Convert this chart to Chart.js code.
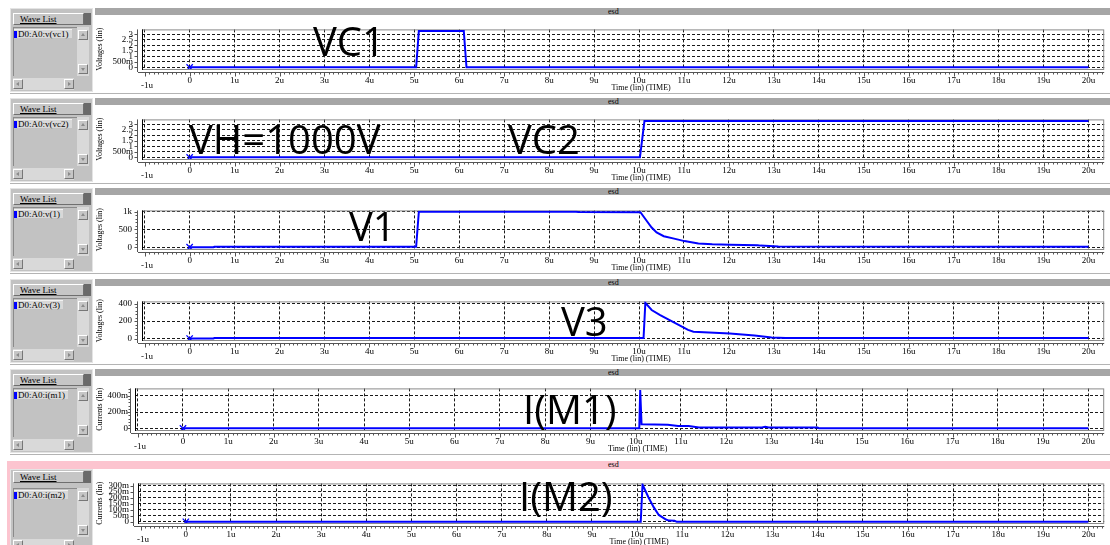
<!DOCTYPE html>
<html>
<head>
<meta charset="utf-8">
<script src="https://cdn.jsdelivr.net/npm/chart.js@4.4.0/dist/chart.umd.min.js"></script>
<style>
  body { margin: 0; width: 1110px; height: 545px; overflow: hidden; background: #fff; position: relative; font-family: "Liberation Serif", serif; }
  .panel { position: absolute; left: 0; width: 1110px; height: 86px; }
  .side { position: absolute; left: 10px; width: 83px; height: 84px; background: #c2c2c2; border: 1px solid #e4e4e4; box-sizing: border-box; }
  .btn { position: absolute; left: 2px; top: 4px; width: 71px; height: 12px; background: #c6c6c6; border: 1px solid; border-color: #fff #6f6f6f #6f6f6f #fff; box-sizing: border-box; font-size: 9px; line-height: 10px; padding-left: 6px; text-decoration: underline; }
  .dark { position: absolute; left: 73px; top: 4px; width: 7px; height: 12px; background: #6a6a6a; }
  .list { position: absolute; left: 2px; top: 18px; width: 64px; height: 49px; border-top: 1px solid #8a8a8a; border-left: 1px solid #8a8a8a; box-sizing: border-box; }
  .item { position: absolute; left: 0; top: 1px; background: #d8d8d8; border-top: 1px solid #f2f2f2; font-size: 9px; line-height: 8px; padding: 0 3px 0 0; white-space: nowrap; }
  .item i { display: inline-block; width: 3px; height: 7px; background: #0000ff; margin-right: 1px; vertical-align: -1px; }
  .vs { position: absolute; left: 66px; top: 18px; width: 12px; height: 49px; background: #d9d9d9; }
  .hs { position: absolute; left: 2px; top: 69px; width: 61px; height: 12px; background: #d9d9d9; }
  .ab { position: absolute; width: 10px; height: 10px; background: #c6c6c6; border: 1px solid; border-color: #fff #777 #777 #fff; box-sizing: border-box; }
  .ab b { position: absolute; left: 2px; top: 2px; width: 0; height: 0; border: 2px solid transparent; }
  .ab b.up { border-bottom: 3px solid #8a8a8a; top: 0; }
  .ab b.dn { border-top: 3px solid #8a8a8a; top: 3px; }
  .ab b.lt { border-right: 3px solid #8a8a8a; left: 0; }
  .ab b.rt { border-left: 3px solid #8a8a8a; left: 3px; }
  .hdr { position: absolute; left: 95px; top: 0; width: 1015px; height: 7px; background: #a6a6a6; font-size: 8px; line-height: 7px; }
  .hdr span { position: absolute; left: 513px; }
  .sep { position: absolute; left: 10px; top: 85px; width: 1100px; height: 1px; background: #b4b4b4; }
  canvas { position: absolute; left: 95px; top: 7px; }
  .big { position: absolute; font-family: "Open Sans", sans-serif; font-size: 40px; line-height: 40px; color: #000; white-space: nowrap; }
</style>
</head>
<body>
<script>
// time axis (microseconds)
const xTicks = [-1, 0, 1, 2, 3, 4, 5, 6, 7, 8, 9, 10, 11, 12, 13, 14, 15, 16, 17, 18, 19, 20];

// VC1
const vc1Time = [0, 5.04, 5.1, 6.1, 6.16, 20];
const vc1Volt = [0, 0, 3.3, 3.3, 0, 0];

// VC2
const vc2Time = [0, 10.02, 10.12, 20];
const vc2Volt = [0, 0, 3.3, 3.3];

// V(1)
const v1Time = [0, 0.53, 0.55, 5.04, 5.1, 8.6, 8.65, 10.03, 10.16, 10.28, 10.39, 10.55, 10.78, 11.01, 11.32, 11.63, 12.02, 12.64, 12.7, 13.1, 20];
const v1Volt = [0, 0, 12, 12, 1000, 1000, 988, 986, 759, 552, 414, 310, 241, 172, 103, 83, 69, 55, 45, 18, 15];

// V(3)
const v3Time = [0, 0.53, 0.55, 10.1, 10.14, 10.28, 10.47, 11.09, 11.21, 12.02, 12.57, 12.95, 13.26, 20];
const v3Volt = [0, 0, 5, 5, 409, 327, 269, 99, 79, 58, 35, 12, 5, 5];

// I(M1)
const im1Time = [0, 10.08, 10.1, 10.13, 10.71, 10.94, 11.17, 11.4, 12.79, 12.86, 12.94, 14.02, 14.05, 20];
const im1Amp = [0, 0, 0.47, 0.05, 0.045, 0.03, 0.03, 0.012, 0.012, 0.02, 0.01, 0.01, 0, 0];

// I(M2)
const im2Time = [0, 10.08, 10.12, 10.25, 10.37, 10.48, 10.64, 10.7, 10.83, 10.88, 20];
const im2Amp = [0, 0, 0.31, 0.205, 0.12, 0.057, 0.019, 0.01, 0.008, 0, 0];

// y ticks / labels
const yTicksVc = [0, 0.5, 1, 1.5, 2, 2.5, 3];
const yLabelsVc = ['0', '500m', '1', '1.5', '2', '2.5', '3'];
const yTicksV1 = [0, 500, 1000];
const yLabelsV1 = ['0', '500', '1k'];
const yTicksV3 = [0, 200, 400];
const yLabelsV3 = ['0', '200', '400'];
const yTicksI1 = [0, 0.2, 0.4];
const yLabelsI1 = ['0', '200m', '400m'];
const yTicksI2 = [0, 0.05, 0.1, 0.15, 0.2, 0.25, 0.3];
const yLabelsI2 = ['0', '50m', '100m', '150m', '200m', '250m', '300m'];

const panels = [
  { top: 8, node: 'D0:A0:v(vc1)', yTitle: 'Voltages (lin)', t: vc1Time, v: vc1Volt, yMin: -0.15, yMax: 3.45, ticks: yTicksVc, labels: yLabelsVc, axisW: 47, pad: 9 },
  { top: 98, node: 'D0:A0:v(vc2)', yTitle: 'Voltages (lin)', t: vc2Time, v: vc2Volt, yMin: -0.15, yMax: 3.45, ticks: yTicksVc, labels: yLabelsVc, axisW: 47, pad: 9 },
  { top: 188, node: 'D0:A0:v(1)', yTitle: 'Voltages (lin)', t: v1Time, v: v1Volt, yMin: -50, yMax: 1035, ticks: yTicksV1, labels: yLabelsV1, axisW: 47, pad: 10 },
  { top: 279, node: 'D0:A0:v(3)', yTitle: 'Voltages (lin)', t: v3Time, v: v3Volt, yMin: -17, yMax: 426, ticks: yTicksV3, labels: yLabelsV3, axisW: 47, pad: 10 },
  { top: 369, node: 'D0:A0:i(m1)', yTitle: 'Currents (lin)', t: im1Time, v: im1Amp, yMin: -0.02, yMax: 0.49, ticks: yTicksI1, labels: yLabelsI1, axisW: 40, pad: 7 },
  { top: 461, node: 'D0:A0:i(m2)', yTitle: 'Currents (lin)', t: im2Time, v: im2Amp, yMin: -0.01, yMax: 0.32, ticks: yTicksI2, labels: yLabelsI2, axisW: 43, pad: 9, selected: true }
];

const bigLabels = [
  { text: 'VC1', left: 313, top: 21 },
  { text: 'VH=1000V', left: 189, top: 119 },
  { text: 'VC2', left: 508, top: 119 },
  { text: 'V1', left: 349, top: 206 },
  { text: 'V3', left: 561, top: 301 },
  { text: 'I(M1)', left: 523, top: 389 },
  { text: 'I(M2)', left: 519, top: 476 }
];

const serif = '"Liberation Serif", "DejaVu Serif", serif';

function line(ctx, x1, y1, x2, y2) {
  ctx.beginPath();
  ctx.moveTo(x1, y1);
  ctx.lineTo(x2, y2);
  ctx.stroke();
}

// frame, rulers and x title like the waveform viewer
const scopeAxes = {
  id: 'scopeAxes',
  beforeDatasetsDraw(chart) {
    const { ctx, chartArea: a, scales: { x, y } } = chart;
    ctx.save();
    ctx.lineWidth = 1;
    ctx.strokeStyle = '#8a8a8a';
    ctx.strokeRect(a.left + 0.5, a.top + 0.5, a.right - a.left - 1, a.bottom - a.top);
    ctx.strokeStyle = '#000';
    line(ctx, a.left + 0.5, a.top, a.left + 0.5, a.bottom + 1);

    // bottom ruler
    const ry = a.bottom + 3.5;
    ctx.strokeStyle = '#555';
    line(ctx, a.left - 4, ry, a.right, ry);
    for (let k = -10; k <= 203; k++) {
      const t = k / 10;
      if (t < x.min || t > x.max) continue;
      const px = Math.round(x.getPixelForValue(t)) + 0.5;
      line(ctx, px, ry, px, ry + (k % 10 === 0 ? 4 : 2));
    }

    // left ruler
    const rx = a.left - 4.5;
    line(ctx, rx, a.top, rx, a.bottom + 3);
    const tv = y.ticks.map(t => t.value);
    const step = tv[1] - tv[0];
    const minor = step / 5;
    const dense = Math.abs(y.getPixelForValue(0) - y.getPixelForValue(minor)) < 3;
    for (let k = Math.ceil(y.min / minor); k * minor <= y.max; k++) {
      const val = k * minor;
      const major = k % 5 === 0;
      if (!major && dense) continue;
      const py = Math.round(y.getPixelForValue(val)) + 0.5;
      line(ctx, rx, py, rx - (major ? 3 : 2), py);
    }
    ctx.restore();
  },
  afterDraw(chart) {
    const { ctx, chartArea: a, scales: { x } } = chart;
    ctx.save();
    ctx.fillStyle = '#000';
    ctx.font = '8px ' + serif;
    ctx.textAlign = 'center';
    ctx.textBaseline = 'middle';
    ctx.fillText('Time (lin) (TIME)', x.getPixelForValue(10) + 2, a.bottom + 19);
    ctx.restore();
  }
};

function sideHtml(p) {
  return `<div class="side" style="top:${p.selected ? 8 : 0}px;height:${p.selected ? 78 : 84}px">
    <div class="btn" style="top:${p.selected ? 1 : 4}px">Wave List</div><div class="dark" style="top:${p.selected ? 1 : 4}px"></div>
    <div class="list"><span class="item"><i></i>${p.node}</span></div>
    <div class="vs"><div class="ab" style="left:1px;top:3px"><b class="up"></b></div><div class="ab" style="left:1px;top:37px"><b class="dn"></b></div></div>
    <div class="hs"><div class="ab" style="left:0;top:1px"><b class="lt"></b></div><div class="ab" style="left:51px;top:1px"><b class="rt"></b></div></div>
  </div>`;
}

panels.forEach(p => {
  const div = document.createElement('div');
  div.className = 'panel';
  div.style.top = p.top + 'px';
  let hdrStyle = '';
  if (p.selected) hdrStyle = 'left:8px;width:1102px;height:8px;background:#fcc4cf';
  div.innerHTML = sideHtml(p) +
    `<div class="hdr" style="${hdrStyle}"><span style="${p.selected ? 'left:600px' : ''}">esd</span></div>` +
    (p.selected ? '<div style="position:absolute;left:7px;top:0;width:3px;height:86px;background:#fcc4cf"></div>' : '<div class="sep"></div>');
  const canvas = document.createElement('canvas');
  canvas.width = 1015;
  canvas.height = 77;
  canvas.style.width = '1015px';
  canvas.style.height = '77px';
  if (p.selected) canvas.style.top = '8px';
  div.appendChild(canvas);
  document.body.appendChild(div);

  new Chart(canvas, {
    type: 'line',
    data: {
      datasets: [{
        data: p.t.map((t, i) => ({ x: t, y: p.v[i] })),
        borderColor: '#0000ff',
        borderWidth: 2,
        fill: false,
        tension: 0,
        pointStyle: 'crossRot',
        pointRadius: ctx => ctx.dataIndex === 0 ? 4.5 : 0,
        pointBorderColor: '#0000ff',
        pointBorderWidth: 1.3
      }]
    },
    options: {
      responsive: false,
      animation: false,
      events: [],
      layout: { padding: { top: 2, right: 4, left: 0, bottom: 0 } },
      plugins: { legend: { display: false }, tooltip: { enabled: false } },
      scales: {
        x: {
          type: 'linear',
          min: -1.06,
          max: 20.35,
          afterBuildTicks: s => { s.ticks = xTicks.map(v => ({ value: v })); },
          afterFit: s => { s.height = 23; },
          grid: { color: '#1a1a1a', lineWidth: 1, drawTicks: false, borderDash: [3, 2] },
          border: { display: false, dash: [3, 2] },
          ticks: {
            autoSkip: false, maxRotation: 0, minRotation: 0, padding: 9, color: '#000',
            font: { family: serif, size: 9, lineHeight: 0.6 },
            callback: v => v === -1 ? ['', '  -1u'] : (v === 0 ? '0' : v + 'u')
          }
        },
        y: {
          type: 'linear',
          min: p.yMin,
          max: p.yMax,
          afterBuildTicks: s => { s.ticks = p.ticks.map(v => ({ value: v })); },
          afterFit: s => { s.width = p.axisW; },
          grid: { color: '#1a1a1a', lineWidth: 1, drawTicks: false, borderDash: [3, 2] },
          border: { display: false, dash: [3, 2] },
          ticks: {
            autoSkip: false, padding: p.pad, color: '#000',
            font: { family: serif, size: 9 },
            callback: (v, i) => p.labels[i]
          },
          title: { display: true, text: p.yTitle, color: '#000', font: { family: serif, size: 8 }, padding: { top: 0, bottom: 0 } }
        }
      }
    },
    plugins: [scopeAxes]
  });
});

bigLabels.forEach(b => {
  const el = document.createElement('div');
  el.className = 'big';
  el.textContent = b.text;
  el.style.left = b.left + 'px';
  el.style.top = b.top + 'px';
  document.body.appendChild(el);
});
</script>
</body>
</html>
